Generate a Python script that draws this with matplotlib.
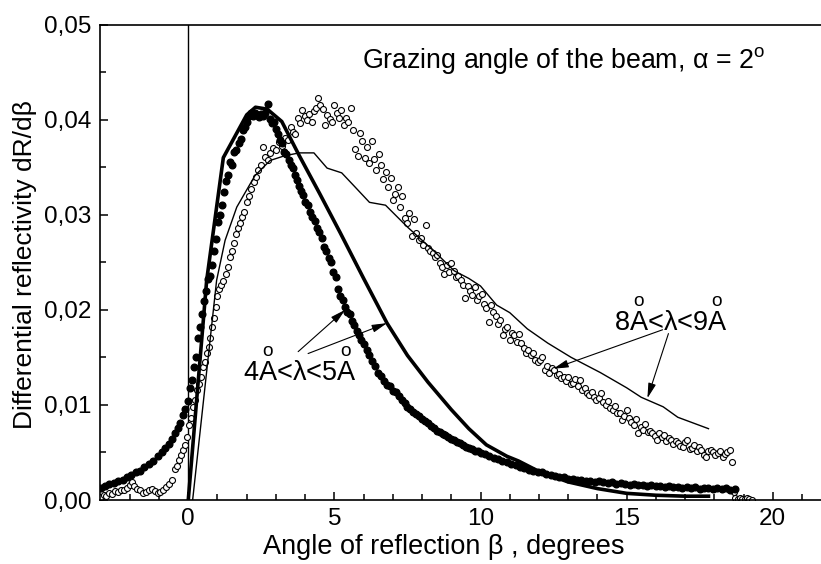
import matplotlib
matplotlib.use("Agg")
import matplotlib.pyplot as plt
from matplotlib.ticker import MultipleLocator, FuncFormatter

plt.rcParams["font.family"] = ["Liberation Sans", "DejaVu Sans"]
plt.rcParams["mathtext.fontset"] = "custom"
plt.rcParams["mathtext.rm"] = "Liberation Sans"
plt.rcParams["mathtext.it"] = "Liberation Sans:italic"

# 4A < lambda < 5A, experiment (filled circles)
x_short = [-3.0, -2.85, -2.7, -2.55, -2.4, -2.25, -2.1, -1.95, -1.8, -1.65, -1.5, -1.35, -1.2, -1.05,
           -0.9, -0.78, -0.66, -0.55, -0.45, -0.36, -0.27, -0.18, -0.1, -0.02, 0.05, 0.12, 0.19, 0.26,
           0.33, 0.4, 0.47, 0.54, 0.6, 0.67, 0.74, 0.81, 0.88, 0.95, 1.02, 1.09, 1.16, 1.23, 1.3, 1.37,
           1.44, 1.51, 1.58, 1.65, 1.72, 1.79, 1.86, 1.93, 2.0, 2.07, 2.14, 2.21, 2.28, 2.35, 2.42, 2.49,
           2.56, 2.63, 2.73, 2.8, 2.87, 2.94, 3.01, 3.08, 3.15, 3.22, 3.29, 3.36, 3.43, 3.5, 3.57, 3.64,
           3.71, 3.78, 3.85, 3.92, 4.0, 4.08, 4.16, 4.24, 4.32, 4.4, 4.48, 4.56, 4.64, 4.72, 4.8, 4.88,
           4.96, 5.04, 5.12, 5.2, 5.28, 5.36, 5.44, 5.52, 5.6, 5.68, 5.76, 5.84, 5.92, 6.0, 6.1, 6.2,
           6.3, 6.4, 6.5, 6.6, 6.7, 6.8, 6.9, 7.0, 7.1, 7.2, 7.3, 7.4, 7.5, 7.6, 7.7, 7.8, 7.9, 8.0,
           8.1, 8.2, 8.3, 8.4, 8.5, 8.6, 8.7, 8.8, 8.9, 9.0, 9.1, 9.2, 9.3, 9.4, 9.5, 9.6, 9.7, 9.8,
           9.9, 10.0, 10.15, 10.3, 10.45, 10.6, 10.75, 10.9, 11.05, 11.2, 11.35, 11.5, 11.65, 11.8,
           11.95, 12.1, 12.25, 12.4, 12.55, 12.7, 12.85, 13.0, 13.15, 13.3, 13.45, 13.6, 13.75, 13.9,
           14.05, 14.2, 14.35, 14.5, 14.65, 14.8, 14.95, 15.1, 15.25, 15.4, 15.55, 15.7, 15.85, 16.0,
           16.15, 16.3, 16.45, 16.6, 16.75, 16.9, 17.05, 17.2, 17.35, 17.5, 17.65, 17.8, 17.95, 18.1,
           18.25, 18.4, 18.55, 18.7]
y_short = [0.0013, 0.0015, 0.0017, 0.0018, 0.0020, 0.0021, 0.0024, 0.0026, 0.0029, 0.0031, 0.0035,
           0.0038, 0.0041, 0.0046, 0.0050, 0.0055, 0.0059, 0.0064, 0.0070, 0.0076, 0.0081, 0.0089,
           0.0096, 0.0104, 0.0118, 0.0126, 0.0140, 0.0150, 0.0170, 0.0182, 0.0196, 0.0209, 0.0220,
           0.0232, 0.0236, 0.0247, 0.0262, 0.0274, 0.0292, 0.0300, 0.0310, 0.0324, 0.0335, 0.0342,
           0.0355, 0.0352, 0.0366, 0.0368, 0.0375, 0.0380, 0.0389, 0.0392, 0.0398, 0.0404, 0.0407,
           0.0404, 0.0407, 0.0405, 0.0403, 0.0406, 0.0404, 0.0407, 0.0416, 0.0401, 0.0396, 0.0398,
           0.0390, 0.0385, 0.0379, 0.0375, 0.0366, 0.0364, 0.0357, 0.0352, 0.0349, 0.0342, 0.0336,
           0.0330, 0.0325, 0.0321, 0.0313, 0.0310, 0.0303, 0.0298, 0.0293, 0.0286, 0.0282, 0.0276,
           0.0266, 0.0262, 0.0254, 0.0250, 0.0240, 0.0234, 0.0222, 0.0214, 0.0210, 0.0203, 0.0198,
           0.0196, 0.0188, 0.0184, 0.0178, 0.0174, 0.0168, 0.0164, 0.0158, 0.0152, 0.0146, 0.0141,
           0.0134, 0.0130, 0.0125, 0.0121, 0.0120, 0.0115, 0.0114, 0.0109, 0.0105, 0.0102, 0.0098,
           0.0096, 0.0093, 0.0090, 0.0088, 0.0085, 0.0083, 0.0081, 0.0078, 0.0076, 0.0073, 0.0071,
           0.0069, 0.0068, 0.0066, 0.0064, 0.0063, 0.0061, 0.0060, 0.0058, 0.0056, 0.0055, 0.0054,
           0.0052, 0.0051, 0.0049, 0.0048, 0.0046, 0.0044, 0.0043, 0.0041, 0.0040, 0.0038, 0.0037,
           0.0035, 0.0034, 0.0032, 0.0031, 0.0029, 0.0029, 0.0027, 0.0026, 0.0025, 0.0024, 0.0024,
           0.0022, 0.0022, 0.0021, 0.0021, 0.0020, 0.0020, 0.0019, 0.0020, 0.0019, 0.0018, 0.0019,
           0.0017, 0.0018, 0.0017, 0.0016, 0.0017, 0.0016, 0.0016, 0.0015, 0.0016, 0.0015, 0.0015,
           0.0014, 0.0015, 0.0014, 0.0014, 0.0013, 0.0014, 0.0013, 0.0014, 0.0012, 0.0013, 0.0013,
           0.0012, 0.0013, 0.0012, 0.0013, 0.0011, 0.0012]

# 8A < lambda < 9A, experiment (open circles)
x_long = [-3.0, -2.9, -2.8, -2.7, -2.6, -2.5, -2.4, -2.3, -2.2, -2.1, -2.0, -1.92, -1.85, -1.75, -1.65,
          -1.55, -1.45, -1.35, -1.25, -1.15, -1.05, -0.95, -0.85, -0.75, -0.65, -0.56, -0.47, -0.39,
          -0.31, -0.24, -0.17, -0.1, -0.04, 0.03, 0.09, 0.16, 0.23, 0.3, 0.37, 0.44, 0.5, 0.57, 0.64,
          0.7, 0.76, 0.82, 0.88, 0.94, 1.0, 1.06, 1.12, 1.2, 1.28, 1.36, 1.43, 1.5, 1.57, 1.64, 1.71,
          1.78, 1.85, 1.92, 2.0, 2.08, 2.16, 2.24, 2.32, 2.4, 2.48, 2.56, 2.64, 2.72, 2.8, 2.9, 3.0,
          3.1, 3.2, 3.3, 3.4, 3.5, 3.58, 3.66, 3.74, 3.82, 3.9, 3.98, 4.06, 4.14, 4.22, 4.3, 4.38,
          4.44, 4.52, 4.6, 4.68, 4.76, 4.84, 4.92, 5.0, 5.08, 5.16, 5.24, 5.32, 5.4, 5.48, 5.56, 5.64,
          5.72, 5.8, 5.88, 5.96, 6.04, 6.12, 6.2, 6.28, 6.36, 6.44, 6.52, 6.6, 6.68, 6.76, 6.84, 6.92,
          7.0, 7.08, 7.16, 7.24, 7.32, 7.4, 7.48, 7.56, 7.64, 7.72, 7.8, 7.88, 7.96, 8.04, 8.12, 8.2,
          8.28, 8.36, 8.44, 8.52, 8.6, 8.68, 8.76, 8.84, 8.92, 9.0, 9.08, 9.16, 9.24, 9.32, 9.4, 9.48,
          9.56, 9.64, 9.72, 9.8, 9.88, 9.96, 10.04, 10.12, 10.2, 10.28, 10.36, 10.44, 10.52, 10.6,
          10.68, 10.76, 10.84, 10.92, 11.0, 11.08, 11.16, 11.24, 11.32, 11.4, 11.48, 11.56, 11.64,
          11.72, 11.8, 11.88, 11.96, 12.04, 12.12, 12.2, 12.28, 12.36, 12.44, 12.52, 12.6, 12.68,
          12.76, 12.84, 12.92, 13.0, 13.08, 13.16, 13.24, 13.32, 13.4, 13.48, 13.56, 13.64, 13.72,
          13.8, 13.88, 13.96, 14.04, 14.12, 14.2, 14.28, 14.36, 14.44, 14.52, 14.6, 14.68, 14.76,
          14.84, 14.92, 15.0, 15.08, 15.16, 15.24, 15.32, 15.4, 15.48, 15.56, 15.64, 15.72, 15.8,
          15.88, 15.96, 16.04, 16.12, 16.2, 16.28, 16.36, 16.44, 16.52, 16.6, 16.68, 16.76, 16.84,
          16.92, 17.0, 17.08, 17.16, 17.24, 17.32, 17.4, 17.48, 17.56, 17.64, 17.72, 17.8, 17.88,
          17.96, 18.04, 18.12, 18.2, 18.28, 18.36, 18.44, 18.52, 18.6, 18.66, 18.72, 18.8, 18.88,
          18.96, 19.04, 19.12, 19.2, 19.28]
y_long = [0.0003, 0.0005, 0.0004, 0.0007, 0.0006, 0.0009, 0.0008, 0.0011, 0.0010, 0.0013, 0.0016,
          0.0019, 0.0015, 0.0012, 0.0010, 0.0007, 0.0008, 0.0011, 0.0012, 0.0009, 0.0007, 0.0008,
          0.0011, 0.0014, 0.0017, 0.0021, 0.0033, 0.0036, 0.0042, 0.0047, 0.0053, 0.0058, 0.0066,
          0.0079, 0.0086, 0.0098, 0.0105, 0.0116, 0.0122, 0.0129, 0.0140, 0.0145, 0.0155, 0.0161,
          0.0170, 0.0182, 0.0191, 0.0203, 0.0215, 0.0222, 0.0226, 0.0230, 0.0238, 0.0245, 0.0255,
          0.0262, 0.0270, 0.0280, 0.0286, 0.0291, 0.0298, 0.0303, 0.0313, 0.0320, 0.0327, 0.0334,
          0.0340, 0.0347, 0.0352, 0.0371, 0.0361, 0.0357, 0.0365, 0.0370, 0.0368, 0.0376, 0.0372,
          0.0381, 0.0379, 0.0392, 0.0387, 0.0385, 0.0402, 0.0396, 0.0410, 0.0404, 0.0400, 0.0406,
          0.0398, 0.0409, 0.0412, 0.0423, 0.0415, 0.0411, 0.0394, 0.0405, 0.0401, 0.0397, 0.0415,
          0.0407, 0.0402, 0.0410, 0.0394, 0.0402, 0.0398, 0.0412, 0.0389, 0.0369, 0.0362, 0.0386,
          0.0378, 0.0360, 0.0371, 0.0354, 0.0378, 0.0359, 0.0347, 0.0364, 0.0352, 0.0338, 0.0345,
          0.0329, 0.0339, 0.0315, 0.0322, 0.0329, 0.0308, 0.0320, 0.0297, 0.0291, 0.0302, 0.0278,
          0.0296, 0.0281, 0.0273, 0.0276, 0.0268, 0.0289, 0.0265, 0.0262, 0.0260, 0.0255, 0.0258,
          0.0249, 0.0245, 0.0238, 0.0247, 0.0240, 0.0249, 0.0241, 0.0234, 0.0236, 0.0231, 0.0226,
          0.0212, 0.0225, 0.0220, 0.0216, 0.0224, 0.0210, 0.0214, 0.0217, 0.0206, 0.0202, 0.0187,
          0.0205, 0.0198, 0.0194, 0.0185, 0.0189, 0.0173, 0.0180, 0.0182, 0.0168, 0.0176, 0.0173,
          0.0166, 0.0175, 0.0165, 0.0160, 0.0155, 0.0158, 0.0152, 0.0155, 0.0147, 0.0145, 0.0147,
          0.0150, 0.0137, 0.0141, 0.0134, 0.0139, 0.0137, 0.0131, 0.0133, 0.0128, 0.0129, 0.0125,
          0.0129, 0.0122, 0.0123, 0.0127, 0.0120, 0.0126, 0.0116, 0.0118, 0.0113, 0.0110, 0.0114,
          0.0108, 0.0105, 0.0107, 0.0112, 0.0103, 0.0100, 0.0104, 0.0097, 0.0095, 0.0099, 0.0092,
          0.0091, 0.0084, 0.0088, 0.0095, 0.0086, 0.0082, 0.0079, 0.0085, 0.0070, 0.0077, 0.0074,
          0.0080, 0.0071, 0.0073, 0.0070, 0.0067, 0.0063, 0.0070, 0.0066, 0.0068, 0.0062, 0.0065,
          0.0063, 0.0059, 0.0062, 0.0060, 0.0057, 0.0056, 0.0061, 0.0063, 0.0054, 0.0055, 0.0058,
          0.0052, 0.0056, 0.0053, 0.0047, 0.0045, 0.0051, 0.0053, 0.0050, 0.0047, 0.0049, 0.0052,
          0.0045, 0.0048, 0.0050, 0.0053, 0.0040, 0.0008, 0.0002, 0.0001, 0.0002, 0.0001, 0.0001,
          0.0002, 0.0001, 0.0000]

# theory curves
x_short_calc = [0.0, 0.63, 1.2, 2.0, 2.3, 2.7, 3.2, 3.8, 4.5, 5.2, 6.0, 6.8, 7.5, 8.2, 9.0, 9.6,
                10.2, 10.9, 11.3, 12.0, 13.0, 14.0, 15.0, 16.0, 17.0, 17.8]
y_short_calc = [0.0, 0.0231, 0.0360, 0.0405, 0.0413, 0.0411, 0.0398, 0.0362, 0.0322, 0.0281, 0.0233,
                0.0186, 0.0152, 0.0124, 0.0095, 0.0075, 0.0058, 0.0046, 0.0041, 0.0030, 0.0019,
                0.0012, 0.0007, 0.0005, 0.0004, 0.0004]
x_long_calc = [0.15, 0.97, 1.26, 1.66, 2.28, 2.8, 3.3, 3.8, 4.3, 4.75, 5.25, 5.65, 6.2, 6.75, 7.5,
               8.4, 9.1, 9.6, 10.0, 10.55, 11.0, 11.6, 12.3, 13.1, 14.1, 15.0, 15.5, 16.25, 16.75, 17.8]
y_long_calc = [0.0, 0.0231, 0.0273, 0.0308, 0.0341, 0.0357, 0.0362, 0.0365, 0.0365, 0.0349, 0.0344,
               0.0331, 0.0313, 0.0310, 0.0287, 0.0262, 0.0241, 0.0233, 0.0225, 0.0205, 0.0197,
               0.0180, 0.0165, 0.0150, 0.0134, 0.0118, 0.0108, 0.0098, 0.0087, 0.0075]

AA = r"$\overset{\mathrm{o}}{\mathrm{A}}$"

fig = plt.figure(figsize=(8.21, 5.64), dpi=100)
ax = fig.add_axes([100 / 821, 64 / 564, 721 / 821, 475.5 / 564])

ax.axvline(0, color="black", lw=1.0, zorder=1)
ax.plot(x_short, y_short, "o", ms=4.8, color="black", mec="black", zorder=3)
ax.plot(x_long, y_long, "o", ms=4.3, mfc="white", mec="black", mew=0.8, zorder=2)
ax.plot(x_short_calc, y_short_calc, "-", color="black", lw=2.6, zorder=4)
ax.plot(x_long_calc, y_long_calc, "-", color="black", lw=1.0, zorder=4)

ax.set_xlim(-3.02, 21.65)
ax.set_ylim(0, 0.05)
ax.xaxis.set_major_locator(MultipleLocator(5))
ax.xaxis.set_minor_locator(MultipleLocator(1))
ax.yaxis.set_major_locator(MultipleLocator(0.01))
ax.yaxis.set_minor_locator(MultipleLocator(0.005))
ax.yaxis.set_major_formatter(FuncFormatter(lambda v, p: f"{v:.2f}".replace(".", ",")))
ax.tick_params(which="both", direction="in", width=1.1, labelsize=17.5, pad=6)
ax.tick_params(which="major", length=6)
ax.tick_params(which="minor", length=4)
for s in ax.spines.values():
    s.set_linewidth(1.2)
ax.spines["right"].set_visible(False)

ax.set_xlabel("Angle of reflection β , degrees", fontsize=19.5)
ax.xaxis.set_label_coords(0.477, -0.072)
ax.set_ylabel("Differential reflectivity dR/dβ", fontsize=19)
ax.yaxis.set_label_coords(-0.088, 0.495)

ax.text(5.96, 0.0462, r"Grazing angle of the beam, α = $\mathrm{2^{o}}$", fontsize=19.3,
        ha="left", va="center")
ax.text(3.82, 0.0139, "4" + AA + "<λ<5" + AA, fontsize=19.5, ha="center", va="center")
ax.text(16.5, 0.0192, "8" + AA + "<λ<9" + AA, fontsize=19.5, ha="center", va="center")

arrow = dict(arrowstyle="-|>,head_length=0.7,head_width=0.18", color="black", lw=0.8,
             shrinkA=0, shrinkB=0, mutation_scale=13)
ax.annotate("", xy=(5.37, 0.0200), xytext=(3.76, 0.0156), arrowprops=arrow)
ax.annotate("", xy=(6.80, 0.0186), xytext=(4.10, 0.0154), arrowprops=arrow)
ax.annotate("", xy=(12.49, 0.0138), xytext=(16.23, 0.0179), arrowprops=arrow)
ax.annotate("", xy=(15.71, 0.0107), xytext=(16.43, 0.0175), arrowprops=arrow)

fig.savefig("out.png", dpi=100)
